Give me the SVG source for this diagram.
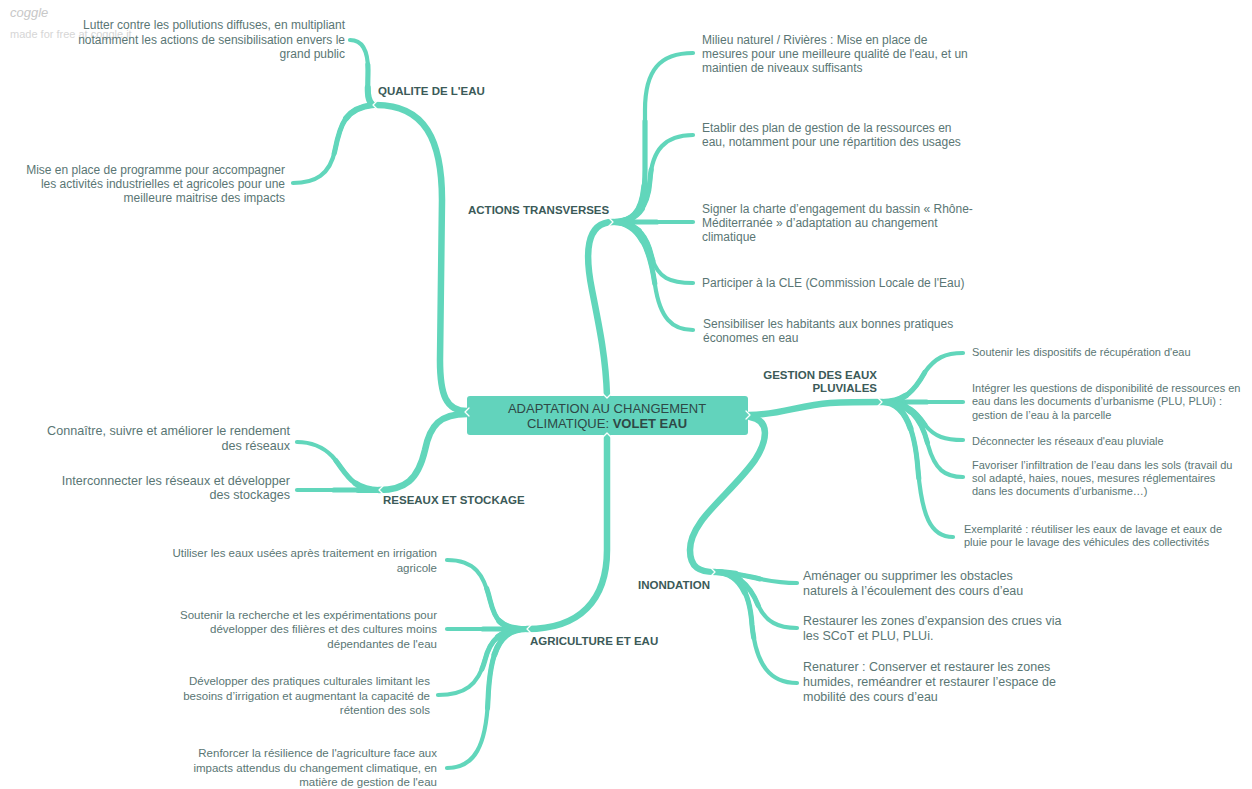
<svg xmlns="http://www.w3.org/2000/svg" width="1252" height="789" viewBox="0 0 1252 789">
<style>
.br{fill:none;stroke:#61d6bb;stroke-linecap:round;stroke-linejoin:round}
.tr{stroke-width:6.5}
.ch{stroke-width:4.2}
.tk{stroke-width:5.1;stroke-dasharray:0.55 1}
.tk2{stroke-width:6;stroke-dasharray:0.25 1}
.cv{fill:none;stroke:#ffffff;stroke-width:1.3;stroke-linecap:round;stroke-linejoin:round}
text{font-family:"Liberation Sans",Arial,sans-serif}
.lf{fill:#5a7674}
.hd{fill:#3b5a58;font-weight:bold;font-size:11.5px}
.r{text-anchor:end}
</style>
<defs>
<path id="q1" pathLength="1" d="M373 105 C366 100 368 90 368 70 C368 50 362 40 350 40"/>
<path id="q2" pathLength="1" d="M373 105 C345 108 340 125 335 150 C330 175 315 183 293 183"/>
<path id="r1" pathLength="1" d="M379 490 C350 490 345 470 332 456 C322 446 310 442 297 442"/>
<path id="r2" pathLength="1" d="M379 490 C350 490 320 490 297 490"/>
<path id="a1" pathLength="1" d="M613 222 C635 222 645 210 645 170 L645 110 C645 70 660 53 693 53"/>
<path id="a2" pathLength="1" d="M613 222 C635 222 648 210 650 180 C652 150 665 135 693 135"/>
<path id="a3" pathLength="1" d="M613 222 C640 222 660 222 693 222"/>
<path id="a4" pathLength="1" d="M613 222 C640 222 648 240 652 258 C658 278 670 283 693 283"/>
<path id="a5" pathLength="1" d="M613 222 C640 222 650 250 655 285 C660 318 672 330 693 330"/>
<path id="g1" pathLength="1" d="M882 402 C905 402 915 390 925 372 C935 358 945 353 963 353"/>
<path id="g2" pathLength="1" d="M882 402 L963 402"/>
<path id="g3" pathLength="1" d="M882 402 C910 402 918 415 925 425 C935 437 945 440 963 440"/>
<path id="g4" pathLength="1" d="M882 402 C910 402 922 420 928 445 C935 470 945 477 963 477"/>
<path id="g5" pathLength="1" d="M882 402 C905 402 915 430 918 470 C922 515 930 537 953 537"/>
<path id="i1" pathLength="1" d="M715 572 C745 572 760 583 797 583"/>
<path id="i2" pathLength="1" d="M715 572 C740 572 752 590 758 605 C766 622 778 628 797 628"/>
<path id="i3" pathLength="1" d="M715 572 C740 572 750 595 752 625 C756 665 770 683 797 683"/>
<path id="c1" pathLength="1" d="M527 629 C500 629 495 620 490 600 C484 575 475 560 447 560"/>
<path id="c2" pathLength="1" d="M527 629 L447 629"/>
<path id="c3" pathLength="1" d="M527 629 C500 629 490 640 485 660 C478 685 465 695 438 695"/>
<path id="c4" pathLength="1" d="M527 629 C500 629 490 650 488 700 C486 745 475 768 447 768"/>
<g id="kids">
<use href="#q1"/><use href="#q2"/><use href="#r1"/><use href="#r2"/>
<use href="#a1"/><use href="#a2"/><use href="#a3"/><use href="#a4"/><use href="#a5"/>
<use href="#g1"/><use href="#g2"/><use href="#g3"/><use href="#g4"/><use href="#g5"/>
<use href="#i1"/><use href="#i2"/><use href="#i3"/>
<use href="#c1"/><use href="#c2"/><use href="#c3"/><use href="#c4"/>
</g>
</defs>
<rect width="1252" height="789" fill="#ffffff"/>
<g id="logo">
<text x="10" y="17" font-size="13" font-style="italic" fill="#c8c8c8">coggle</text>
<text x="10" y="38" font-size="11" fill="#d6d6d6">made for free at coggle.it</text>
</g>
<g id="connectors">
<path class="br tr" d="M467 411 C446 411 440 395 440 360 L442 200 C442 140 425 105 376 105"/>
<path class="br tr" d="M467 414 C440 414 430 425 425 450 C418 480 405 490 379 490"/>
<path class="br tr" d="M607 396 C606 360 600 330 592 290 C585 255 585 222 613 222"/>
<path class="br tr" d="M749 415 C780 415 800 405 830 403 C850 402 865 402 882 402"/>
<path class="br tr" d="M750 417 C770 420 768 440 755 460 C730 495 690 520 690 550 C690 568 700 572 715 572"/>
<path class="br tr" d="M607 435 L607 550 C607 600 580 629 527 629"/>
<use href="#kids" class="br ch"/>
<use href="#kids" class="br tk"/>
<use href="#kids" class="br tk2"/>
<g class="cv">
<polyline points="377,101 373,105 377,109"/>
<polyline points="383,486 379,490 383,494"/>
<polyline points="609,218 613,222 609,226"/>
<polyline points="878,398 882,402 878,406"/>
<polyline points="711,568 715,572 711,576"/>
<polyline points="531,625 527,629 531,633"/>
</g>
</g>
<g id="center">
<rect x="467" y="396" width="281" height="39" rx="3" fill="#62d3bc"/>
<polyline class="cv" points="603,394 607,398 611,394"/>
<polyline class="cv" points="603,437 607,433 611,437"/>
<polyline class="cv" points="469,408 465,412 469,416"/>
<polyline class="cv" points="746,411 750,415 746,419"/>
<text x="607" y="413" font-size="13" fill="#2f4846" text-anchor="middle">ADAPTATION AU CHANGEMENT</text>
<text x="607" y="428" font-size="13" fill="#2f4846" text-anchor="middle">CLIMATIQUE: <tspan font-weight="bold">VOLET EAU</tspan></text>
</g>
<g id="qualite">
<text class="hd" x="378" y="95">QUALITE DE L'EAU</text>
<text class="lf r" font-size="12"><tspan x="345" y="29">Lutter contre les pollutions diffuses, en multipliant</tspan><tspan x="345" y="44">notamment les actions de sensibilisation envers le</tspan><tspan x="345" y="58">grand public</tspan></text>
<text class="lf r" font-size="12"><tspan x="285" y="174">Mise en place de programme pour accompagner</tspan><tspan x="285" y="188">les activités industrielles et agricoles pour une</tspan><tspan x="285" y="202">meilleure maitrise des impacts</tspan></text>
</g>
<g id="actions">
<text class="hd" x="468" y="214">ACTIONS TRANSVERSES</text>
<text class="lf" font-size="12"><tspan x="702" y="44">Milieu naturel / Rivières : Mise en place de</tspan><tspan x="702" y="58">mesures pour une meilleure qualité de l'eau, et un</tspan><tspan x="702" y="72">maintien de niveaux suffisants</tspan></text>
<text class="lf" font-size="12"><tspan x="702" y="132">Etablir des plan de gestion de la ressources en</tspan><tspan x="702" y="146">eau, notamment pour une répartition des usages</tspan></text>
<text class="lf" font-size="12"><tspan x="702" y="213">Signer la charte d’engagement du bassin « Rhône-</tspan><tspan x="702" y="227">Méditerranée » d’adaptation au changement</tspan><tspan x="702" y="241">climatique</tspan></text>
<text class="lf" font-size="12" x="702" y="287">Participer à la CLE (Commission Locale de l'Eau)</text>
<text class="lf" font-size="12"><tspan x="703" y="328">Sensibiliser les habitants aux bonnes pratiques</tspan><tspan x="703" y="342">économes en eau</tspan></text>
</g>
<g id="reseaux">
<text class="hd" x="383" y="504">RESEAUX ET STOCKAGE</text>
<text class="lf r" font-size="12.6"><tspan x="290" y="435">Connaître, suivre et améliorer le rendement</tspan><tspan x="290" y="450">des réseaux</tspan></text>
<text class="lf r" font-size="12.6"><tspan x="290" y="485">Interconnecter les réseaux et développer</tspan><tspan x="290" y="499">des stockages</tspan></text>
</g>
<g id="gestion">
<text class="hd r"><tspan x="877" y="379">GESTION DES EAUX</tspan><tspan x="877" y="392">PLUVIALES</tspan></text>
<text class="lf" font-size="11" x="972" y="356">Soutenir les dispositifs de récupération d'eau</text>
<text class="lf" font-size="11"><tspan x="972" y="392">Intégrer les questions de disponibilité de ressources en</tspan><tspan x="972" y="405">eau dans les documents d’urbanisme (PLU, PLUi) :</tspan><tspan x="972" y="419">gestion de l’eau à la parcelle</tspan></text>
<text class="lf" font-size="11" x="972" y="445">Déconnecter les réseaux d'eau pluviale</text>
<text class="lf" font-size="11"><tspan x="972" y="469">Favoriser l’infiltration de l’eau dans les sols (travail du</tspan><tspan x="972" y="482">sol adapté, haies, noues, mesures réglementaires</tspan><tspan x="972" y="495">dans les documents d’urbanisme…)</tspan></text>
<text class="lf" font-size="11"><tspan x="964" y="533">Exemplarité : réutiliser les eaux de lavage et eaux de</tspan><tspan x="964" y="546">pluie pour le lavage des véhicules des collectivités</tspan></text>
</g>
<g id="inondation">
<text class="hd" x="638" y="589">INONDATION</text>
<text class="lf" font-size="12.5"><tspan x="803" y="580">Aménager ou supprimer les obstacles</tspan><tspan x="803" y="595">naturels à l’écoulement des cours d’eau</tspan></text>
<text class="lf" font-size="12.5"><tspan x="803" y="625">Restaurer les zones d’expansion des crues via</tspan><tspan x="803" y="640">les SCoT et PLU, PLUi.</tspan></text>
<text class="lf" font-size="12.5"><tspan x="803" y="671">Renaturer : Conserver et restaurer les zones</tspan><tspan x="803" y="686">humides, reméandrer et restaurer l’espace de</tspan><tspan x="803" y="701">mobilité des cours d’eau</tspan></text>
</g>
<g id="agriculture">
<text class="hd" x="530" y="645">AGRICULTURE ET EAU</text>
<text class="lf r" font-size="11.5"><tspan x="437" y="557">Utiliser les eaux usées après traitement en irrigation</tspan><tspan x="437" y="572">agricole</tspan></text>
<text class="lf r" font-size="11.5"><tspan x="437" y="619">Soutenir la recherche et les expérimentations pour</tspan><tspan x="437" y="633">développer des filières et des cultures moins</tspan><tspan x="437" y="648">dépendantes de l'eau</tspan></text>
<text class="lf r" font-size="11.5"><tspan x="430" y="685">Développer des pratiques culturales limitant les</tspan><tspan x="430" y="700">besoins d’irrigation et augmentant la capacité de</tspan><tspan x="430" y="714">rétention des sols</tspan></text>
<text class="lf r" font-size="11.5"><tspan x="437" y="757">Renforcer la résilience de l'agriculture face aux</tspan><tspan x="437" y="772">impacts attendus du changement climatique, en</tspan><tspan x="437" y="786">matière de gestion de l'eau</tspan></text>
</g>
</svg>
